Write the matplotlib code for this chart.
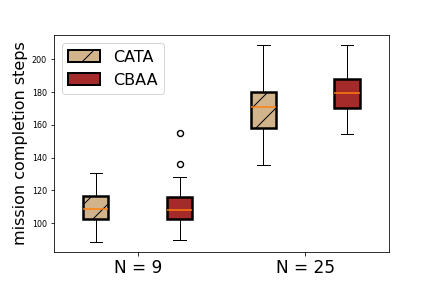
import matplotlib
matplotlib.use("Agg")
import matplotlib.pyplot as plt
from matplotlib.patches import Patch

groups = ["N = 9", "N = 25"]
methods = ["CATA", "CBAA"]
colors = ["#D2B48C", "#A52A2A"]
hatches = ["/", ""]

# box statistics per method, per group (N=9, N=25)
whislo = {"CATA": [88.4, 135.3], "CBAA": [90.0, 154.2]}
q1 = {"CATA": [102.6, 158.0], "CBAA": [102.6, 170.2]}
med = {"CATA": [108.9, 170.6], "CBAA": [108.3, 179.7]}
q3 = {"CATA": [116.8, 179.9], "CBAA": [116.0, 188.0]}
whishi = {"CATA": [130.8, 208.7], "CBAA": [128.0, 208.7]}
fliers = {"CATA": [[], []], "CBAA": [[135.9, 154.8], []]}

fig, ax = plt.subplots(figsize=(6, 4), dpi=72)

for m_i, m in enumerate(methods):
    stats = []
    for g_i in range(len(groups)):
        stats.append(dict(whislo=whislo[m][g_i], q1=q1[m][g_i], med=med[m][g_i],
                          q3=q3[m][g_i], whishi=whishi[m][g_i], fliers=fliers[m][g_i]))
    positions = [1 + 2 * g_i + m_i for g_i in range(len(groups))]
    bp = ax.bxp(stats, positions=positions, widths=0.3, patch_artist=True,
                boxprops=dict(facecolor=colors[m_i], edgecolor="black", linewidth=2.5, hatch=hatches[m_i]),
                medianprops=dict(color="#FF7F0E", linewidth=1.5),
                whiskerprops=dict(color="black", linewidth=1),
                capprops=dict(color="black", linewidth=1),
                flierprops=dict(marker="o", markerfacecolor="none", markeredgecolor="black",
                                markersize=6, markeredgewidth=1.4))
    for line in bp["medians"]:
        line.set_zorder(3)

ax.set_xlim(0.5, 4.5)
ax.set_xticks([1.5, 3.5])
ax.set_xticklabels(groups, fontsize=17)
ax.tick_params(axis="y", labelsize=8)
ax.set_ylabel("mission completion steps", fontsize=16)

handles = [Patch(facecolor=colors[i], edgecolor="black", linewidth=2, hatch=hatches[i], label=methods[i])
           for i in range(len(methods))]
ax.legend(handles=handles, loc="upper left", fontsize=16)

plt.subplots_adjust(left=0.125, right=0.9, top=0.878, bottom=0.125)
fig.savefig("out.png", dpi=72)
